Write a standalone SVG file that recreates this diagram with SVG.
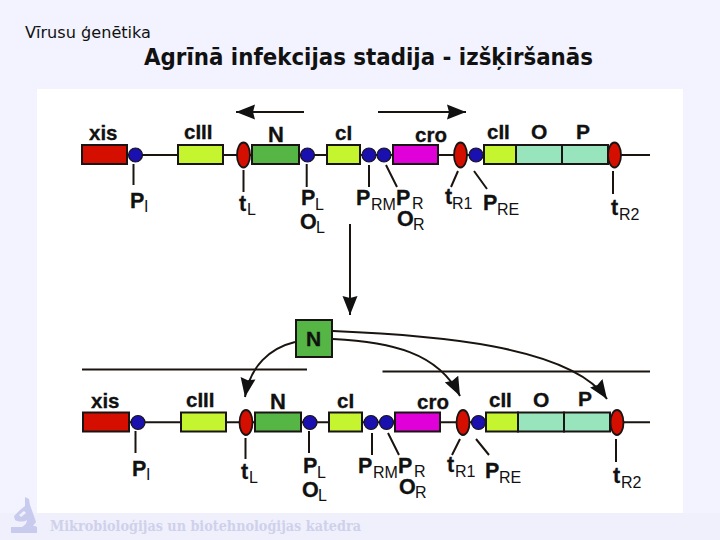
<svg xmlns="http://www.w3.org/2000/svg" width="720" height="540" viewBox="0 0 720 540">
<style>
.g{stroke:#1a1414;stroke-width:2}
.ln{stroke:#1a1410;stroke-width:2;fill:none}
.red{fill:#d40f00}.yel{fill:#c4f52f}.grn{fill:#55b545}.mag{fill:#e000d8}.teal{fill:#98e4bc}
.ter{fill:#d40f00;stroke:#1a1414;stroke-width:1.8}
.pro{fill:#1a10b0;stroke:#1a1414;stroke-width:1.2}
text{font-family:"Liberation Sans",Arial,sans-serif;fill:#111}
.b{font-weight:bold;font-size:20.5px;stroke:#111;stroke-width:.3}
.p{font-weight:bold;font-size:21.5px;stroke:#111;stroke-width:.3}
.s{font-size:16px;font-weight:normal}
</style>
<defs>
<marker id="a" markerUnits="userSpaceOnUse" markerWidth="20" markerHeight="16" refX="19" refY="8" orient="auto"><path d="M0 0.500L19 8L0 15.500L2 8Z" fill="#111"/></marker>
</defs>
<rect width="720" height="540" fill="#f2f3fe"/>
<rect x="37" y="89" width="646" height="424" fill="#fff"/>
<path d="M0 513H720V540H0Z" fill="#eff0fb"/>
<text x="25" y="38" style="font-family:'DejaVu Sans',sans-serif;font-size:15.500px" textLength="126" lengthAdjust="spacingAndGlyphs">Vīrusu ģenētika</text>
<text x="144" y="65" style="font-family:'DejaVu Sans',sans-serif;font-size:22.500px;font-weight:bold" textLength="449" lengthAdjust="spacingAndGlyphs">Agrīnā infekcijas stadija - izšķiršanās</text>
<path fill-rule="evenodd" d="M25 497L29 499L30 505L34 516L36 522L33 526H35L37 527V533H11V527H22C25 525 27 523 27 520C24 522 19 522 15 520L14 516L20 510L25 506ZM19 515L21 517L26 513L24 511Z" fill="#c9cbee"/>
<text x="50" y="531" style="font-family:'DejaVu Serif',serif;font-weight:bold;font-size:14.500px;fill:#cfd1ec" textLength="311" lengthAdjust="spacingAndGlyphs">Mikrobioloģijas un biotehnoloģijas katedra</text>

<g id="connectors">
<path class="ln" d="M82 155H650"/>
<path class="ln" d="M304 112H236" marker-end="url(#a)"/>
<path class="ln" d="M378 112H466" marker-end="url(#a)"/>
<path class="ln" d="M133.500 164V185M243.500 170V192M306.700 164V187M369 165V187M386 165L397 187M458 171L451 187M474 171L487 189M613 171V194"/>
<path class="ln" d="M350 224V315" marker-end="url(#a)"/>
<path class="ln" d="M82 369.500H307M382.500 371.500H650"/>
<path class="ln" d="M84 422.300H650"/>
<path class="ln" d="M295 342C270 348 250 366 245 397" marker-end="url(#a)"/>
<path class="ln" d="M333 339C390 342 438 352 460 396" marker-end="url(#a)"/>
<path class="ln" d="M333 331C430 335 570 345 607 399" marker-end="url(#a)"/>
<path class="ln" d="M135.500 431V453M245.500 438V459M309 431V453M372 433V455M388 433L399 455M460 439L452 455M476 439L489 455M616 439V462"/>
</g>

<g id="top-xis"><rect class="g red" x="82" y="145" width="45" height="19"/><text class="b" x="89" y="140">xis</text></g>
<g id="top-PI"><circle class="pro" cx="135.500" cy="155" r="7"/><text class="p" x="130" y="208">P</text><text class="s" x="144" y="212">I</text></g>
<g id="top-cIII"><rect class="g yel" x="178" y="145" width="45" height="19"/><text class="b" x="184" y="139">cIII</text></g>
<g id="top-tL"><ellipse class="ter" cx="243.500" cy="155" rx="6.500" ry="12.500"/><text class="p" x="239" y="211">t</text><text class="s" x="247" y="215">L</text></g>
<g id="top-N"><rect class="g grn" x="252" y="145" width="47" height="19"/><text class="b" x="268" y="142" style="font-size:22px">N</text></g>
<g id="top-PL"><circle class="pro" cx="307.500" cy="155" r="7"/><text class="p" x="301" y="205">P</text><text class="s" x="315" y="210">L</text><text class="p" x="300" y="229">O</text><text class="s" x="316" y="233">L</text></g>
<g id="top-cI"><rect class="g yel" x="327" y="145" width="33" height="19"/><text class="b" x="335" y="140">cI</text></g>
<g id="top-PRM"><circle class="pro" cx="369" cy="155" r="7"/><text class="p" x="356" y="205">P</text><text class="s" x="371" y="210">RM</text></g>
<g id="top-PR"><circle class="pro" cx="384" cy="155" r="7"/><text class="p" x="396" y="205">P</text><text class="s" x="412" y="209">R</text><text class="p" x="397" y="226">O</text><text class="s" x="413" y="230">R</text></g>
<g id="top-cro"><rect class="g mag" x="393" y="145" width="45" height="19"/><text class="b" x="415" y="142">cro</text></g>
<g id="top-tR1"><ellipse class="ter" cx="460.500" cy="155" rx="6.500" ry="12.500"/><text class="p" x="445" y="204">t</text><text class="s" x="452" y="209">R1</text></g>
<g id="top-PRE"><circle class="pro" cx="476" cy="155" r="7"/><text class="p" x="483" y="210">P</text><text class="s" x="497" y="215">RE</text></g>
<g id="top-cII"><rect class="g yel" x="484" y="145" width="32" height="19"/><text class="b" x="487" y="139">cII</text></g>
<g id="top-O"><rect class="g teal" x="516" y="145" width="46" height="19"/><text class="b" x="531" y="139" style="font-size:21px">O</text></g>
<g id="top-P"><rect class="g teal" x="562" y="145" width="46" height="19"/><text class="b" x="576" y="139" style="font-size:21px">P</text></g>
<g id="top-tR2"><ellipse class="ter" cx="614.500" cy="155" rx="6.500" ry="12.500"/><text class="p" x="611" y="215">t</text><text class="s" x="619" y="220">R2</text></g>

<g id="N-protein"><rect class="g grn" x="296" y="320" width="36" height="37"/><text class="b" x="306" y="346" style="font-size:21px">N</text></g>

<g id="bot-xis"><rect class="g red" x="83" y="412.500" width="46" height="19"/><text class="b" x="91" y="408">xis</text></g>
<g id="bot-PI"><circle class="pro" cx="138" cy="422.500" r="7"/><text class="p" x="132" y="476">P</text><text class="s" x="146" y="480">I</text></g>
<g id="bot-cIII"><rect class="g yel" x="181" y="412.500" width="45" height="19"/><text class="b" x="186" y="407">cIII</text></g>
<g id="bot-tL"><ellipse class="ter" cx="246" cy="422.500" rx="6.500" ry="12.500"/><text class="p" x="241" y="479">t</text><text class="s" x="249" y="483">L</text></g>
<g id="bot-N"><rect class="g grn" x="255" y="412.500" width="46" height="19"/><text class="b" x="270" y="409" style="font-size:22px">N</text></g>
<g id="bot-PL"><circle class="pro" cx="310" cy="422.500" r="7"/><text class="p" x="303" y="473">P</text><text class="s" x="317" y="478">L</text><text class="p" x="302" y="497">O</text><text class="s" x="318" y="501">L</text></g>
<g id="bot-cI"><rect class="g yel" x="329" y="412.500" width="33" height="19"/><text class="b" x="337" y="408">cI</text></g>
<g id="bot-PRM"><circle class="pro" cx="371" cy="422.500" r="7"/><text class="p" x="358" y="473">P</text><text class="s" x="373" y="478">RM</text></g>
<g id="bot-PR"><circle class="pro" cx="386.500" cy="422.500" r="7"/><text class="p" x="398" y="473">P</text><text class="s" x="414" y="477">R</text><text class="p" x="399" y="494">O</text><text class="s" x="415" y="498">R</text></g>
<g id="bot-cro"><rect class="g mag" x="395" y="412.500" width="45" height="19"/><text class="b" x="417" y="409">cro</text></g>
<g id="bot-tR1"><ellipse class="ter" cx="463" cy="422.500" rx="6.500" ry="12.500"/><text class="p" x="447" y="472">t</text><text class="s" x="455" y="477">R1</text></g>
<g id="bot-PRE"><circle class="pro" cx="478.500" cy="422.500" r="7"/><text class="p" x="485" y="478">P</text><text class="s" x="499" y="483">RE</text></g>
<g id="bot-cII"><rect class="g yel" x="486" y="412.500" width="32" height="19"/><text class="b" x="489" y="407">cII</text></g>
<g id="bot-O"><rect class="g teal" x="518" y="412.500" width="46" height="19"/><text class="b" x="533" y="407" style="font-size:21px">O</text></g>
<g id="bot-P"><rect class="g teal" x="564" y="412.500" width="46" height="19"/><text class="b" x="578" y="406" style="font-size:21px">P</text></g>
<g id="bot-tR2"><ellipse class="ter" cx="617" cy="422.500" rx="6.500" ry="12.500"/><text class="p" x="613" y="483">t</text><text class="s" x="621" y="488">R2</text></g>
</svg>
